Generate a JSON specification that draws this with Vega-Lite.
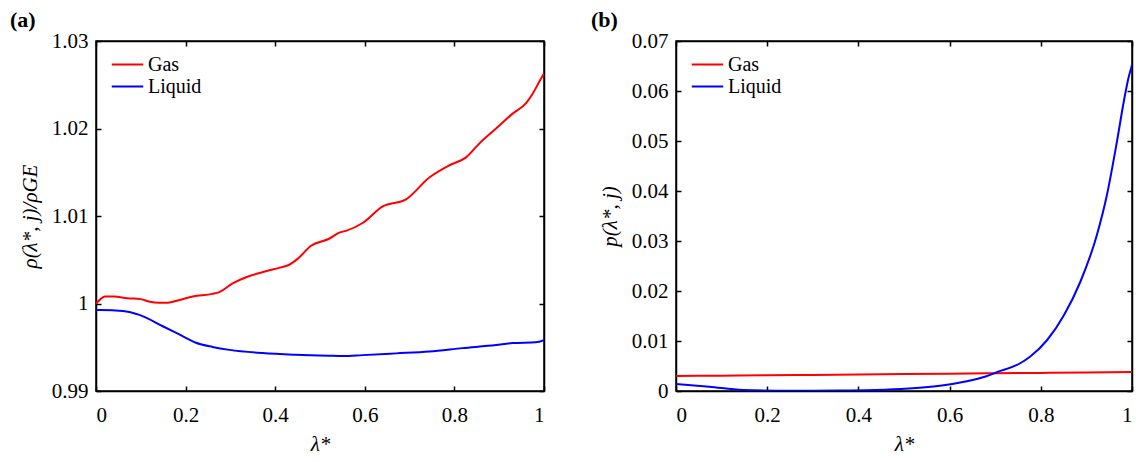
{
  "$schema": "https://vega.github.io/schema/vega-lite/v6.json",
  "padding": {"left": 9, "top": 8, "right": 0, "bottom": 0},
  "background": "white",
  "config": {
    "font": "Liberation Serif",
    "style": {
      "guide-label": {"font": "Liberation Serif"},
      "guide-title": {"font": "Liberation Serif"}
    },
    "view": {"stroke": "black", "strokeWidth": 1.5},
    "axis": {
      "grid": false,
      "domainColor": "black",
      "domainWidth": 1.5,
      "tickColor": "black",
      "tickWidth": 1.5,
      "tickSize": -5,
      "labelFont": "Liberation Serif",
      "labelFontSize": 21,
      "labelColor": "black",
      "titleFont": "Liberation Serif",
      "titleFontSize": 21,
      "titleFontWeight": "normal",
      "titleFontStyle": "italic",
      "titleColor": "black",
      "format": "~g"
    },
    "axisX": {"labelPadding": 18},
    "axisY": {"labelPadding": 13},
    "legend": {
      "labelFont": "Liberation Serif",
      "labelFontSize": 20,
      "labelColor": "black",
      "symbolType": "M-1.5,0H1.5",
      "symbolSize": 441,
      "symbolStrokeWidth": 2,
      "rowPadding": 0,
      "labelOffset": 9,
      "padding": 0
    }
  },
  "datasets": {
    "a": [
      {"lam": 0.0, "val": 1.0, "phase": "Gas"},
      {"lam": 0.01, "val": 1.0005, "phase": "Gas"},
      {"lam": 0.02, "val": 1.0008, "phase": "Gas"},
      {"lam": 0.04, "val": 1.0008, "phase": "Gas"},
      {"lam": 0.07, "val": 1.0006, "phase": "Gas"},
      {"lam": 0.1, "val": 1.0005, "phase": "Gas"},
      {"lam": 0.12, "val": 1.0002, "phase": "Gas"},
      {"lam": 0.141, "val": 1.0001, "phase": "Gas"},
      {"lam": 0.16, "val": 1.0001, "phase": "Gas"},
      {"lam": 0.186, "val": 1.0004, "phase": "Gas"},
      {"lam": 0.216, "val": 1.0008, "phase": "Gas"},
      {"lam": 0.26, "val": 1.0011, "phase": "Gas"},
      {"lam": 0.275, "val": 1.0013, "phase": "Gas"},
      {"lam": 0.305, "val": 1.0023, "phase": "Gas"},
      {"lam": 0.335, "val": 1.003, "phase": "Gas"},
      {"lam": 0.373, "val": 1.0036, "phase": "Gas"},
      {"lam": 0.41, "val": 1.0041, "phase": "Gas"},
      {"lam": 0.43, "val": 1.0044, "phase": "Gas"},
      {"lam": 0.45, "val": 1.0051, "phase": "Gas"},
      {"lam": 0.48, "val": 1.0066, "phase": "Gas"},
      {"lam": 0.52, "val": 1.0074, "phase": "Gas"},
      {"lam": 0.543, "val": 1.0081, "phase": "Gas"},
      {"lam": 0.558, "val": 1.0083, "phase": "Gas"},
      {"lam": 0.595, "val": 1.0092, "phase": "Gas"},
      {"lam": 0.64, "val": 1.0111, "phase": "Gas"},
      {"lam": 0.692, "val": 1.0119, "phase": "Gas"},
      {"lam": 0.744, "val": 1.0144, "phase": "Gas"},
      {"lam": 0.789, "val": 1.0158, "phase": "Gas"},
      {"lam": 0.826, "val": 1.0167, "phase": "Gas"},
      {"lam": 0.856, "val": 1.0183, "phase": "Gas"},
      {"lam": 0.893, "val": 1.02, "phase": "Gas"},
      {"lam": 0.93, "val": 1.0217, "phase": "Gas"},
      {"lam": 0.96, "val": 1.0229, "phase": "Gas"},
      {"lam": 0.975, "val": 1.024, "phase": "Gas"},
      {"lam": 0.99, "val": 1.0254, "phase": "Gas"},
      {"lam": 1.0, "val": 1.0263, "phase": "Gas"},
      {"lam": 0.0, "val": 0.99926, "phase": "Liquid"},
      {"lam": 0.011, "val": 0.99926, "phase": "Liquid"},
      {"lam": 0.06, "val": 0.99915, "phase": "Liquid"},
      {"lam": 0.097, "val": 0.9987, "phase": "Liquid"},
      {"lam": 0.149, "val": 0.9974, "phase": "Liquid"},
      {"lam": 0.186, "val": 0.99646, "phase": "Liquid"},
      {"lam": 0.223, "val": 0.99552, "phase": "Liquid"},
      {"lam": 0.26, "val": 0.99504, "phase": "Liquid"},
      {"lam": 0.298, "val": 0.9947, "phase": "Liquid"},
      {"lam": 0.372, "val": 0.99433, "phase": "Liquid"},
      {"lam": 0.446, "val": 0.99414, "phase": "Liquid"},
      {"lam": 0.521, "val": 0.99403, "phase": "Liquid"},
      {"lam": 0.55, "val": 0.994, "phase": "Liquid"},
      {"lam": 0.595, "val": 0.9941, "phase": "Liquid"},
      {"lam": 0.67, "val": 0.9943, "phase": "Liquid"},
      {"lam": 0.744, "val": 0.99451, "phase": "Liquid"},
      {"lam": 0.818, "val": 0.9949, "phase": "Liquid"},
      {"lam": 0.893, "val": 0.99526, "phase": "Liquid"},
      {"lam": 0.93, "val": 0.99549, "phase": "Liquid"},
      {"lam": 0.982, "val": 0.99556, "phase": "Liquid"},
      {"lam": 1.0, "val": 0.9958, "phase": "Liquid"}
    ],
    "b": [
      {"lam": 0.0, "val": 0.0030, "phase": "Gas"},
      {"lam": 0.1, "val": 0.00307, "phase": "Gas"},
      {"lam": 0.2, "val": 0.00314, "phase": "Gas"},
      {"lam": 0.3, "val": 0.00322, "phase": "Gas"},
      {"lam": 0.4, "val": 0.0033, "phase": "Gas"},
      {"lam": 0.5, "val": 0.00338, "phase": "Gas"},
      {"lam": 0.6, "val": 0.00346, "phase": "Gas"},
      {"lam": 0.7, "val": 0.00354, "phase": "Gas"},
      {"lam": 0.8, "val": 0.00362, "phase": "Gas"},
      {"lam": 0.9, "val": 0.0037, "phase": "Gas"},
      {"lam": 1.0, "val": 0.00378, "phase": "Gas"},
      {"lam": 0.0, "val": 0.0014, "phase": "Liquid"},
      {"lam": 0.073, "val": 0.00086, "phase": "Liquid"},
      {"lam": 0.146, "val": 0.0002, "phase": "Liquid"},
      {"lam": 0.219, "val": 0.00006, "phase": "Liquid"},
      {"lam": 0.3, "val": 0.00005, "phase": "Liquid"},
      {"lam": 0.365, "val": 0.0001, "phase": "Liquid"},
      {"lam": 0.438, "val": 0.0002, "phase": "Liquid"},
      {"lam": 0.51, "val": 0.0005, "phase": "Liquid"},
      {"lam": 0.583, "val": 0.0011, "phase": "Liquid"},
      {"lam": 0.635, "val": 0.0019, "phase": "Liquid"},
      {"lam": 0.679, "val": 0.0029, "phase": "Liquid"},
      {"lam": 0.705, "val": 0.0038, "phase": "Liquid"},
      {"lam": 0.752, "val": 0.0054, "phase": "Liquid"},
      {"lam": 0.777, "val": 0.0069, "phase": "Liquid"},
      {"lam": 0.814, "val": 0.0102, "phase": "Liquid"},
      {"lam": 0.851, "val": 0.0152, "phase": "Liquid"},
      {"lam": 0.887, "val": 0.0219, "phase": "Liquid"},
      {"lam": 0.923, "val": 0.0312, "phase": "Liquid"},
      {"lam": 0.945, "val": 0.0392, "phase": "Liquid"},
      {"lam": 0.967, "val": 0.0499, "phase": "Liquid"},
      {"lam": 0.982, "val": 0.0579, "phase": "Liquid"},
      {"lam": 0.992, "val": 0.0625, "phase": "Liquid"},
      {"lam": 1.0, "val": 0.0652, "phase": "Liquid"}
    ]
  },
  "hconcat": [
    {
      "width": 448,
      "height": 350,
      "title": {"text": "(a)", "anchor": "start", "frame": "group", "dx": -86, "offset": -2, "fontSize": 22, "fontWeight": "bold", "font": "Liberation Serif", "color": "black"},
      "data": {"name": "a"},
      "layer": [
        {
          "mark": {"type": "line", "strokeWidth": 2, "clip": true, "interpolate": "monotone"},
          "encoding": {
            "x": {"field": "lam", "type": "quantitative", "scale": {"domain": [0, 1], "nice": false}, "axis": {"values": [0, 0.2, 0.4, 0.6, 0.8, 1], "title": "λ*", "titlePadding": 8, "labelFont": "Liberation Serif", "titleFont": "Liberation Serif"}},
            "y": {"field": "val", "type": "quantitative", "scale": {"domain": [0.99, 1.03], "nice": false, "zero": false}, "axis": {"values": [0.99, 1, 1.01, 1.02, 1.03], "title": "ρ(λ*, j)/ρGE", "titlePadding": 11, "labelFont": "Liberation Serif", "titleFont": "Liberation Serif"}},
            "color": {"field": "phase", "type": "nominal", "scale": {"domain": ["Gas", "Liquid"], "range": ["#ff0000", "#0000ff"]}, "legend": {"title": null, "orient": "none", "legendX": 20, "legendY": 12}},
            "order": {"field": "lam", "type": "quantitative"}
          }
        },
        {
          "mark": {"type": "line", "strokeOpacity": 0},
          "encoding": {
            "x": {"field": "lam", "type": "quantitative", "axis": {"values": [0, 0.2, 0.4, 0.6, 0.8, 1], "labels": false, "title": null}},
            "y": {"field": "val", "type": "quantitative", "axis": {"values": [0.99, 1, 1.01, 1.02, 1.03], "labels": false, "title": null}},
            "detail": {"field": "phase"}
          }
        }
      ],
      "resolve": {"axis": {"x": "independent", "y": "independent"}}
    },
    {
      "width": 456,
      "height": 350,
      "title": {"text": "(b)", "anchor": "start", "frame": "group", "dx": -85, "offset": -2, "fontSize": 22, "fontWeight": "bold", "font": "Liberation Serif", "color": "black"},
      "data": {"name": "b"},
      "layer": [
        {
          "mark": {"type": "line", "strokeWidth": 2, "clip": true, "interpolate": "monotone"},
          "encoding": {
            "x": {"field": "lam", "type": "quantitative", "scale": {"domain": [0, 1], "nice": false}, "axis": {"values": [0, 0.2, 0.4, 0.6, 0.8, 1], "title": "λ*", "titlePadding": 8, "labelFont": "Liberation Serif", "titleFont": "Liberation Serif"}},
            "y": {"field": "val", "type": "quantitative", "scale": {"domain": [0, 0.07], "nice": false, "zero": false}, "axis": {"values": [0, 0.01, 0.02, 0.03, 0.04, 0.05, 0.06, 0.07], "title": "p(λ*, j)", "titlePadding": 11, "labelFont": "Liberation Serif", "titleFont": "Liberation Serif"}},
            "color": {"field": "phase", "type": "nominal", "scale": {"domain": ["Gas", "Liquid"], "range": ["#ff0000", "#0000ff"]}, "legend": {"title": null, "orient": "none", "legendX": 20, "legendY": 12}},
            "order": {"field": "lam", "type": "quantitative"}
          }
        },
        {
          "mark": {"type": "line", "strokeOpacity": 0},
          "encoding": {
            "x": {"field": "lam", "type": "quantitative", "axis": {"values": [0, 0.2, 0.4, 0.6, 0.8, 1], "labels": false, "title": null}},
            "y": {"field": "val", "type": "quantitative", "axis": {"values": [0, 0.01, 0.02, 0.03, 0.04, 0.05, 0.06, 0.07], "labels": false, "title": null}},
            "detail": {"field": "phase"}
          }
        }
      ],
      "resolve": {"axis": {"x": "independent", "y": "independent"}}
    }
  ],
  "spacing": 132,
  "bounds": "flush",
  "resolve": {"scale": {"color": "independent"}}
}
